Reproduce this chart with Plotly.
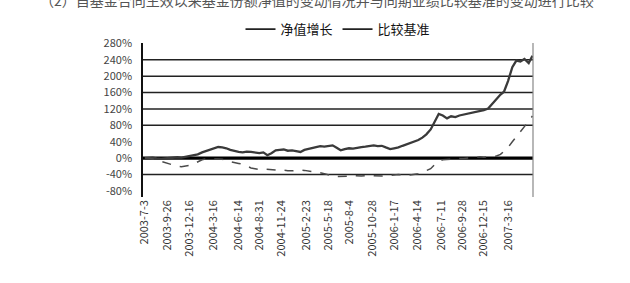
import plotly.graph_objects as go

# ---- data ----
series_names = ["净值增长", "比较基准"]

nav_2003 = [0, 1, 1, -1, -2, -1, 0, 1, 2, 1, 3, 4]
nav_2004 = [6, 9, 14, 17, 20, 24, 27, 26, 24, 20, 17, 15, 14, 16, 15, 13, 12, 14, 7, 12, 19, 20, 21, 18]
nav_2005 = [19, 17, 15, 20, 22, 25, 27, 29, 28, 30, 31, 25, 19, 22, 24, 23, 26, 27, 28, 30, 31, 29, 30, 26]
nav_2006 = [22, 24, 26, 30, 33, 37, 41, 44, 50, 58, 70, 90, 108, 104, 97, 102, 100, 104, 106, 108, 110, 112, 114, 117]
nav_2007 = [121, 132, 146, 155, 162, 188, 222, 238, 236, 242, 232, 250]

bm_2003 = [0, 0, -2, -5, -8, -10, -13, -16, -20, -21, -20, -18]
bm_2004 = [-14, -9, -4, -2, -2, -1, -2, -3, -5, -9, -12, -13, -15, -20, -24, -26, -28, -27, -28, -29, -29, -28, -30, -31]
bm_2005 = [-31, -30, -29, -30, -31, -33, -34, -36, -38, -41, -44, -45, -45, -44, -44, -43, -44, -44, -43, -42, -43, -44, -44, -43]
bm_2006 = [-42, -41, -40, -41, -40, -41, -40, -38, -35, -30, -26, -16, -8, -4, -3, -2, -2, -1, -1, 0, 0, 1, 3, 2]
bm_2007 = [3, 4, 5, 9, 16, 26, 40, 52, 65, 78, 90, 103]

x_tick_dates = ["2003-07-03", "2003-09-26", "2003-12-16", "2004-03-16", "2004-06-14",
                "2004-08-31", "2004-11-24", "2005-02-23", "2005-05-18", "2005-08-04",
                "2005-10-28", "2006-01-17", "2006-04-14", "2006-07-11", "2006-09-28",
                "2006-12-15", "2007-03-16"]
x_tick_labels = ["2003-7-3", "2003-9-26", "2003-12-16", "2004-3-16", "2004-6-14",
                 "2004-8-31", "2004-11-24", "2005-2-23", "2005-5-18", "2005-8-4",
                 "2005-10-28", "2006-1-17", "2006-4-14", "2006-7-11", "2006-9-28",
                 "2006-12-15", "2007-3-16"]

y_tick_vals = [280, 240, 200, 160, 120, 80, 40, 0, -40, -80]
y_tick_labels = ["280%", "240%", "200%", "160%", "120%", "80%", "40%", "0%", "-40%", "-80%"]
grid_vals = [240, 200, 160, 120, 80, -40]
zero_val = [0]

title_text = "（2）自基金合同生效以来基金份额净值的变动情况并与同期业绩比较基准的变动进行比较"

# semi-monthly observation dates
dates = []
for yr in range(2003, 2008):
    for mo in range(1, 13):
        if (yr == 2003 and mo < 7) or (yr == 2007 and mo > 6):
            continue
        for dd in (1, 16):
            dates.append(f"{yr}-{mo:02d}-{dd:02d}")
dates[0] = "2003-07-03"
dates[-1] = "2007-06-15"

nav = nav_2003 + nav_2004 + nav_2005 + nav_2006 + nav_2007
bm = bm_2003 + bm_2004 + bm_2005 + bm_2006 + bm_2007

line_nav = dict(color="#3a3a3a", width=2.3)
line_bm = dict(color="#4a4a4a", width=1.5, dash="dash")

fig = go.Figure()
fig.add_trace(go.Scatter(x=dates, y=nav, mode="lines", name=series_names[0],
                         line=line_nav, showlegend=False))
fig.add_trace(go.Scatter(x=dates, y=bm, mode="lines", name=series_names[1],
                         line=line_bm, showlegend=False))
# legend entries (both drawn as solid strokes, as in the reference legend)
fig.add_trace(go.Scatter(x=[None], y=[None], mode="lines", name=series_names[0],
                         line=dict(color="#222", width=1.6)))
fig.add_trace(go.Scatter(x=[None], y=[None], mode="lines", name=series_names[1],
                         line=dict(color="#222", width=1.6)))

shapes = []
for g in grid_vals:
    shapes.append(dict(type="line", xref="paper", x0=0, x1=1, yref="y", y0=g, y1=g,
                       line=dict(color="#222", width=1.5), layer="below"))
for z in zero_val:
    shapes.append(dict(type="line", xref="paper", x0=0, x1=1, yref="y", y0=z, y1=z,
                       line=dict(color="#000", width=3.2), layer="below"))
shapes.append(dict(type="line", xref="paper", x0=1, x1=1, yref="paper", y0=0, y1=1,
                   line=dict(color="#888", width=1.2)))

fig.update_layout(
    width=630, height=283,
    margin=dict(l=143, r=97, t=43, b=86, autoexpand=False),
    paper_bgcolor="white", plot_bgcolor="white",
    font=dict(family="Noto Sans CJK SC, DejaVu Sans, sans-serif", color="#222"),
    shapes=shapes,
    showlegend=True,
    legend=dict(orientation="h", x=0.5, xanchor="center", y=1.09, yanchor="middle",
                font=dict(size=13, color="#111"), itemwidth=30,
                bgcolor="rgba(0,0,0,0)"),
    annotations=[dict(text=title_text, xref="paper", yref="paper", x=0.445, y=1.28,
                      xanchor="center", yanchor="middle", showarrow=False,
                      font=dict(size=14, color="#555"))],
)
fig.update_xaxes(type="date", range=["2003-06-26", "2007-06-17"],
                 tickmode="array", tickvals=x_tick_dates, ticktext=x_tick_labels,
                 tickangle=-90, tickfont=dict(size=11, color="#333"), automargin=False,
                 showgrid=False, zeroline=False, showline=False, ticks="")
fig.update_yaxes(range=[-95, 281], tickmode="array", tickvals=y_tick_vals, ticktext=y_tick_labels,
                 tickfont=dict(size=11, color="#444"), showgrid=False, zeroline=False,
                 automargin=False, ticklabelstandoff=7,
                 showline=True, linecolor="#111", linewidth=1.5, ticks="", ticklen=0)

fig.write_html("out.html", config={"displayModeBar": False},
               post_script="document.body.style.margin='0';")
